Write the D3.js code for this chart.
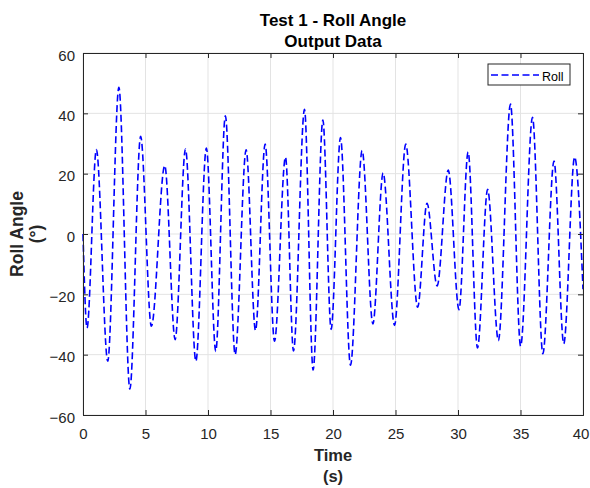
<!DOCTYPE html>
<html><head><meta charset="utf-8">
<script src="https://cdn.jsdelivr.net/npm/d3@7"></script>
<style>body{margin:0;background:#fff;} text{font-family:"Liberation Sans",Arial,sans-serif;}</style>
</head><body>
<svg id="c" width="590" height="488"></svg>
<script>
const timeValues = [0,0.32,1.07,1.98,2.87,3.75,4.61,5.47,6.54,7.37,8.2,9.03,9.87,10.62,11.39,12.17,13.05,13.8,14.57,15.32,16.2,16.84,17.72,18.41,19.19,19.85,20.6,21.4,22.33,23.19,24.01,24.92,25.82,26.77,27.52,28.33,29.22,30.08,30.81,31.56,32.37,33.23,34.2,35.01,35.96,36.79,37.68,38.46,39.33,40];
const rollValues = [0,-31.2,28,-42.2,48.6,-51.4,32.4,-30.6,22.7,-35,28.2,-42.2,28.5,-38.9,39.2,-40,27.9,-32,29.8,-35.5,25.5,-38.8,41.3,-45.1,37.8,-31.6,32,-43.5,27.7,-29.8,20.2,-30.3,29.8,-24.3,10.2,-17.2,21.2,-25.1,27.2,-37.8,14.8,-35.3,43.1,-37.2,38.7,-39.7,24.2,-36.4,25.5,-18.3];
const xTicks = [0,5,10,15,20,25,30,35,40];
const yTicks = [-60,-40,-20,0,20,40,60];
const titleLines = ["Test 1 - Roll Angle","Output Data"];
const xLabelLines = ["Time","(s)"];
const yLabelLines = ["Roll Angle","(°)"];
const seriesName = "Roll";

const svg = d3.select("#c");
const L=83, R=583, T=53, B=415;
const x = d3.scaleLinear().domain([0,40]).range([L,R]);
const y = d3.scaleLinear().domain([-60,60]).range([B,T]);
const axisColor="#262626";
const dash="7,3.5";

// grid
const g = svg.append("g");
g.selectAll(".gx").data(xTicks).join("line").attr("x1",d=>x(d)).attr("x2",d=>x(d)).attr("y1",T).attr("y2",B).attr("stroke","#e3e3e3").attr("stroke-width",1);
g.selectAll(".gy").data(yTicks).join("line").attr("y1",d=>y(d)).attr("y2",d=>y(d)).attr("x1",L).attr("x2",R).attr("stroke","#e3e3e3").attr("stroke-width",1);

// data line
const data = timeValues.map((t,i)=>({t,v:rollValues[i]}));
const line = d3.line().x(d=>x(d.t)).y(d=>y(d.v)).curve(d3.curveMonotoneX);
svg.append("path").datum(data).attr("d",line).attr("fill","none").attr("stroke","#0000ff").attr("stroke-width",1.6).attr("stroke-dasharray",dash);

// axes
const ax = svg.append("g").attr("transform",`translate(0,${B})`).call(d3.axisBottom(x).tickValues(xTicks).tickSize(-5).tickPadding(13).tickFormat(d3.format("d")));
const axT = svg.append("g").attr("transform",`translate(0,${T})`).call(d3.axisTop(x).tickValues(xTicks).tickSize(-5).tickFormat(""));
const ay = svg.append("g").attr("transform",`translate(${L},0)`).call(d3.axisLeft(y).tickValues(yTicks).tickSize(-5).tickPadding(8).tickFormat(d3.format("d")));
const ayR = svg.append("g").attr("transform",`translate(${R},0)`).call(d3.axisRight(y).tickValues(yTicks).tickSize(-5).tickFormat(""));
[ax,axT,ay,ayR].forEach(a=>{
  a.selectAll("path").attr("stroke",axisColor).attr("stroke-width",1);
  a.selectAll("line").attr("stroke",axisColor);
  a.selectAll("text").attr("fill",axisColor).style("font-size","15px").style("font-family","'Liberation Sans',Arial,sans-serif");
});
ay.selectAll("text").attr("dy","0.48em");
ax.selectAll("text").filter(d=>d===40).attr("dx","-2.5");

// titles
svg.selectAll(".title").data(titleLines).join("text").attr("x",(L+R)/2).attr("y",(d,i)=>26+i*20.5).attr("text-anchor","middle").attr("font-weight","bold").attr("font-size","17px").attr("fill","#000").text(d=>d);
svg.selectAll(".xl").data(xLabelLines).join("text").attr("x",(L+R)/2).attr("y",(d,i)=>461+i*21).attr("text-anchor","middle").attr("font-weight","bold").attr("font-size","16.5px").attr("fill",axisColor).text(d=>d);
svg.selectAll(".yl").data(yLabelLines).join("text").attr("transform",(d,i)=>`translate(${22.5+i*19},${(T+B)/2}) rotate(-90)`).attr("text-anchor","middle").attr("font-weight","bold").attr("font-size","17.5px").attr("fill",axisColor).text(d=>d);

// legend
const lg = svg.append("g");
lg.append("rect").attr("x",488).attr("y",64).attr("width",82).attr("height",21).attr("fill","#fff").attr("stroke",axisColor).attr("stroke-width",1);
lg.append("line").attr("x1",491).attr("x2",539).attr("y1",75).attr("y2",75).attr("stroke","#0000ff").attr("stroke-width",1.6).attr("stroke-dasharray",dash);
lg.append("text").attr("x",542).attr("y",80.5).attr("font-size","12.5px").attr("fill","#000").text(seriesName);
</script>
</body></html>
